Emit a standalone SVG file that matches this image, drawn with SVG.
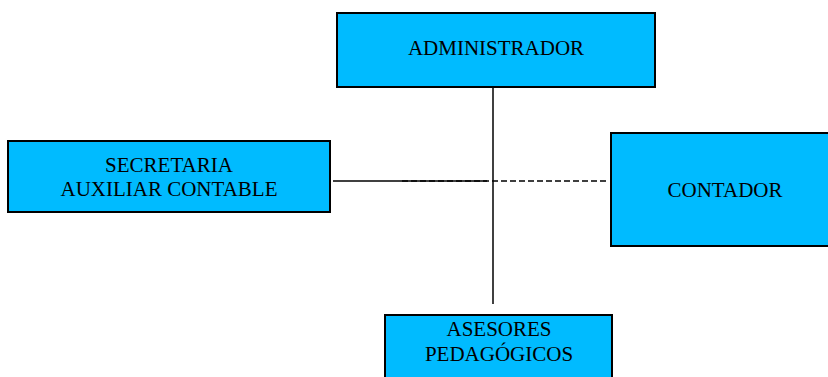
<svg xmlns="http://www.w3.org/2000/svg" width="828" height="377" viewBox="0 0 828 377">
<style>
.box{fill:#00BBFF;stroke:#000;stroke-width:2}
.t{font-family:'Liberation Serif','Times New Roman','DejaVu Serif',serif;font-size:21px;fill:#000;text-anchor:middle}
.ln{stroke:#000;stroke-width:1.5;fill:none}
.dash{stroke:#000;stroke-width:1.5;fill:none;stroke-dasharray:6 3}
</style>
<rect width="828" height="377" fill="#fff"/>
<g id="connectors">
<line class="ln" x1="333" y1="181" x2="487" y2="181"/>
<line class="dash" x1="402" y1="181" x2="608" y2="181"/>
<line class="ln" x1="493" y1="87" x2="493" y2="304"/>
</g>
<g id="administrador">
<rect class="box" x="337" y="13" width="318" height="74"/>
<text class="t" x="496" y="55" font-family="Liberation Serif, serif">ADMINISTRADOR</text>
</g>
<g id="secretaria">
<rect class="box" x="8" y="141" width="322" height="71"/>
<text class="t" x="169" y="172" font-family="Liberation Serif, serif">SECRETARIA</text>
<text class="t" x="169" y="196" font-family="Liberation Serif, serif">AUXILIAR CONTABLE</text>
</g>
<g id="contador">
<rect class="box" x="611" y="133" width="222" height="113"/>
<text class="t" x="725" y="197" font-family="Liberation Serif, serif">CONTADOR</text>
</g>
<g id="asesores">
<rect class="box" x="385" y="315" width="227" height="70"/>
<text class="t" x="499" y="336" font-family="Liberation Serif, serif">ASESORES</text>
<text class="t" x="499" y="361" font-family="Liberation Serif, serif">PEDAGÓGICOS</text>
</g>
</svg>
